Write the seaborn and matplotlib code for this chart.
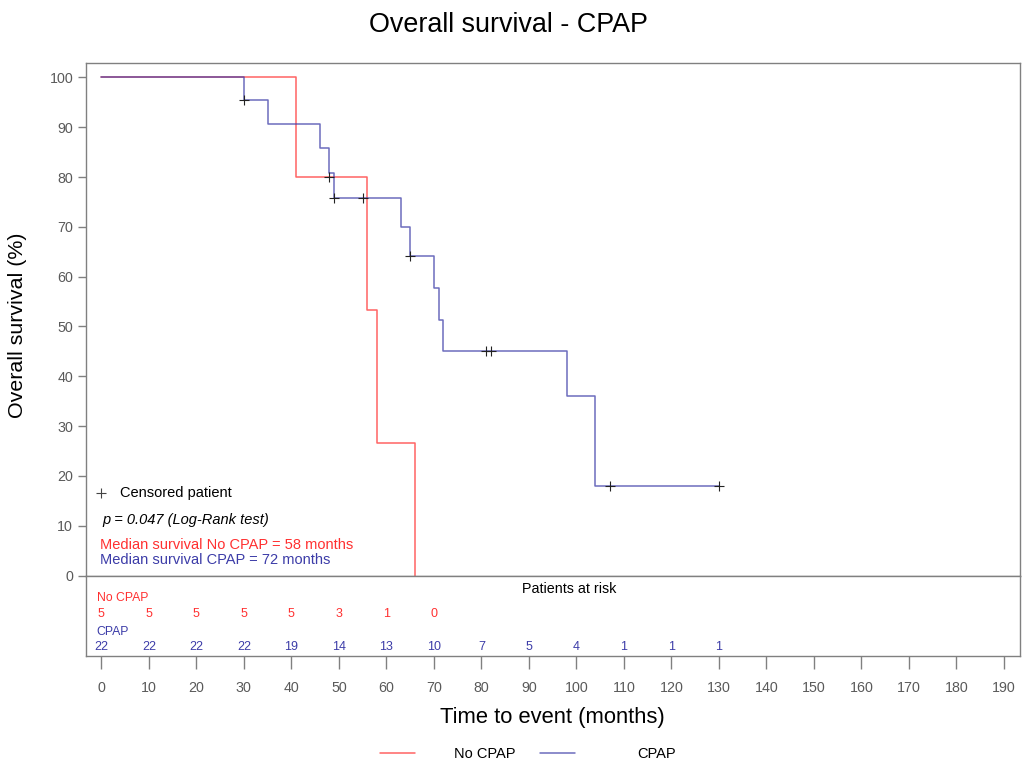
import matplotlib
matplotlib.use("Agg")
import matplotlib.pyplot as plt
import pandas as pd
import seaborn as sns

# ---- data -------------------------------------------------------------
groups = ["No CPAP", "CPAP"]

# Kaplan-Meier step curves: time (months) and % surviving from that time on
no_cpap_time = [0, 41, 56, 58, 66]
no_cpap_surv = [100, 80, 53.3, 26.7, 0]
cpap_time = [0, 30, 35, 46, 48, 49, 63, 65, 70, 71, 72, 98, 104, 130]
cpap_surv = [100, 95.5, 90.7, 85.9, 80.9, 75.8, 70.0, 64.2, 57.8, 51.4, 45.0, 36.0, 18.0, 18.0]

# censored patients
no_cpap_cens_time = [48]
no_cpap_cens_surv = [80]
cpap_cens_time = [30, 49, 55, 65, 81, 82, 107, 130]
cpap_cens_surv = [95.5, 75.8, 75.8, 64.2, 45.0, 45.0, 18.0, 18.0]

# patients at risk
no_cpap_risk_time = [0, 10, 20, 30, 40, 50, 60, 70]
no_cpap_risk = [5, 5, 5, 5, 5, 3, 1, 0]
cpap_risk_time = [0, 10, 20, 30, 40, 50, 60, 70, 80, 90, 100, 110, 120, 130]
cpap_risk = [22, 22, 22, 22, 19, 14, 13, 10, 7, 5, 4, 1, 1, 1]

x_ticks = list(range(0, 200, 10))
y_ticks = list(range(0, 110, 10))

title = "Overall survival - CPAP"
x_label = "Time to event (months)"
y_label = "Overall survival (%)"
p_text = "p = 0.047 (Log-Rank test)"
median_no_cpap = "Median survival No CPAP = 58 months"
median_cpap = "Median survival CPAP = 72 months"

# ---- style ------------------------------------------------------------
sns.set_style("white")
plt.rcParams["font.family"] = ["Liberation Sans", "DejaVu Sans"]
plt.rcParams["text.color"] = "black"

RED = "#ff3030"
BLUE = "#3c3ca8"
GREY = "#808080"
TICK_TEXT = "#5a5a5a"
palette = {"No CPAP": RED, "CPAP": BLUE}

W, H = 1023, 767
def fx(px):
    return px / W

def fy(py):
    return 1 - py / H

fig = plt.figure(figsize=(W / 100, H / 100), dpi=100)
left, right = 85.7, 1020
top, mid, bottom = 63.3, 575.5, 655.5
ax = fig.add_axes([fx(left), fy(mid), (right - left) / W, (mid - top) / H])
axr = fig.add_axes([fx(left), fy(bottom), (right - left) / W, (bottom - mid) / H], sharex=ax)

# ---- survival curves ----------------------------------------------------
curves = pd.concat([
    pd.DataFrame({"time": no_cpap_time, "surv": no_cpap_surv, "group": groups[0]}),
    pd.DataFrame({"time": cpap_time, "surv": cpap_surv, "group": groups[1]}),
], ignore_index=True)
sns.lineplot(data=curves, x="time", y="surv", hue="group", hue_order=groups,
             palette=palette, estimator=None, sort=False, drawstyle="steps-post",
             linewidth=1.1, alpha=0.75, ax=ax, legend=True)
handles, labels = ax.get_legend_handles_labels()
ax.get_legend().remove()

cens = pd.concat([
    pd.DataFrame({"time": no_cpap_cens_time, "surv": no_cpap_cens_surv}),
    pd.DataFrame({"time": cpap_cens_time, "surv": cpap_cens_surv}),
], ignore_index=True)
sns.scatterplot(data=cens, x="time", y="surv", marker="+", s=50, color="#222222",
                linewidth=0.8, ax=ax, legend=False, zorder=5)

ax.set_xlim(-3.3, 193.4)
ax.set_ylim(0, 102.85)
ax.set_yticks(y_ticks)
ax.set_xlabel("")
ax.set_ylabel("")
ax.tick_params(axis="x", bottom=False, labelbottom=False)
ax.tick_params(axis="y", left=True, length=6, width=1, color=GREY, pad=3,
               labelsize=10.3, labelcolor=TICK_TEXT)
for a in (ax, axr):
    for s in a.spines.values():
        s.set_color(GREY)
        s.set_linewidth(1)
        s.set_visible(True)

# annotations inside the survival panel
ax.scatter([0], [16.6], marker="+", s=45, color="#444444", linewidth=0.8)
ax.text(4.0, 16.5, "Censored patient", fontsize=10.5, va="center", ha="left")
ax.text(0.2, 11.2, p_text, fontsize=10.5, style="italic", va="center", ha="left")
ax.text(-0.2, 6.1, median_no_cpap, fontsize=10.5, va="center", ha="left", color=RED)
ax.text(-0.2, 3.1, median_cpap, fontsize=10.5, va="center", ha="left", color=BLUE)

# ---- patients at risk panel ------------------------------------------
axr.set_ylim(0, 1)
axr.set_yticks([])
axr.set_xticks(x_ticks)
axr.tick_params(axis="x", bottom=True, length=9.5, width=1, color=GREY, pad=9,
                labelsize=10.3, labelcolor=TICK_TEXT)
axr.text(98.5, 0.83, "Patients at risk", fontsize=10.3, ha="center", va="center")
axr.text(-1.0, 0.72, groups[0], fontsize=8.8, ha="left", va="center", color=RED)
axr.text(-1.0, 0.295, groups[1], fontsize=8.8, ha="left", va="center", color=BLUE)
for t, n in zip(no_cpap_risk_time, no_cpap_risk):
    axr.text(t, 0.52, str(n), fontsize=9, ha="center", va="center", color=RED)
for t, n in zip(cpap_risk_time, cpap_risk):
    axr.text(t, 0.10, str(n), fontsize=9, ha="center", va="center", color=BLUE)

# ---- titles and labels ------------------------------------------------
fig.text(fx(508.5), fy(31.5), title, fontsize=19.4, ha="center", va="baseline")
fig.text(fx(552.5), fy(718), x_label, fontsize=15.8, ha="center", va="center")
fig.text(fx(18), fy(325), y_label, fontsize=15.4, ha="center", va="center", rotation=90)

# ---- legend -------------------------------------------------------------
for h, lab, x0, pad in zip(handles, labels, [380, 540], [2.7, 4.25]):
    fig.legend([h], [lab], loc="center left", bbox_to_anchor=(fx(x0), fy(754)),
               frameon=False, handlelength=2.4, handletextpad=pad, borderpad=0,
               borderaxespad=0, fontsize=10.5)

fig.savefig("out.png", dpi=100)
